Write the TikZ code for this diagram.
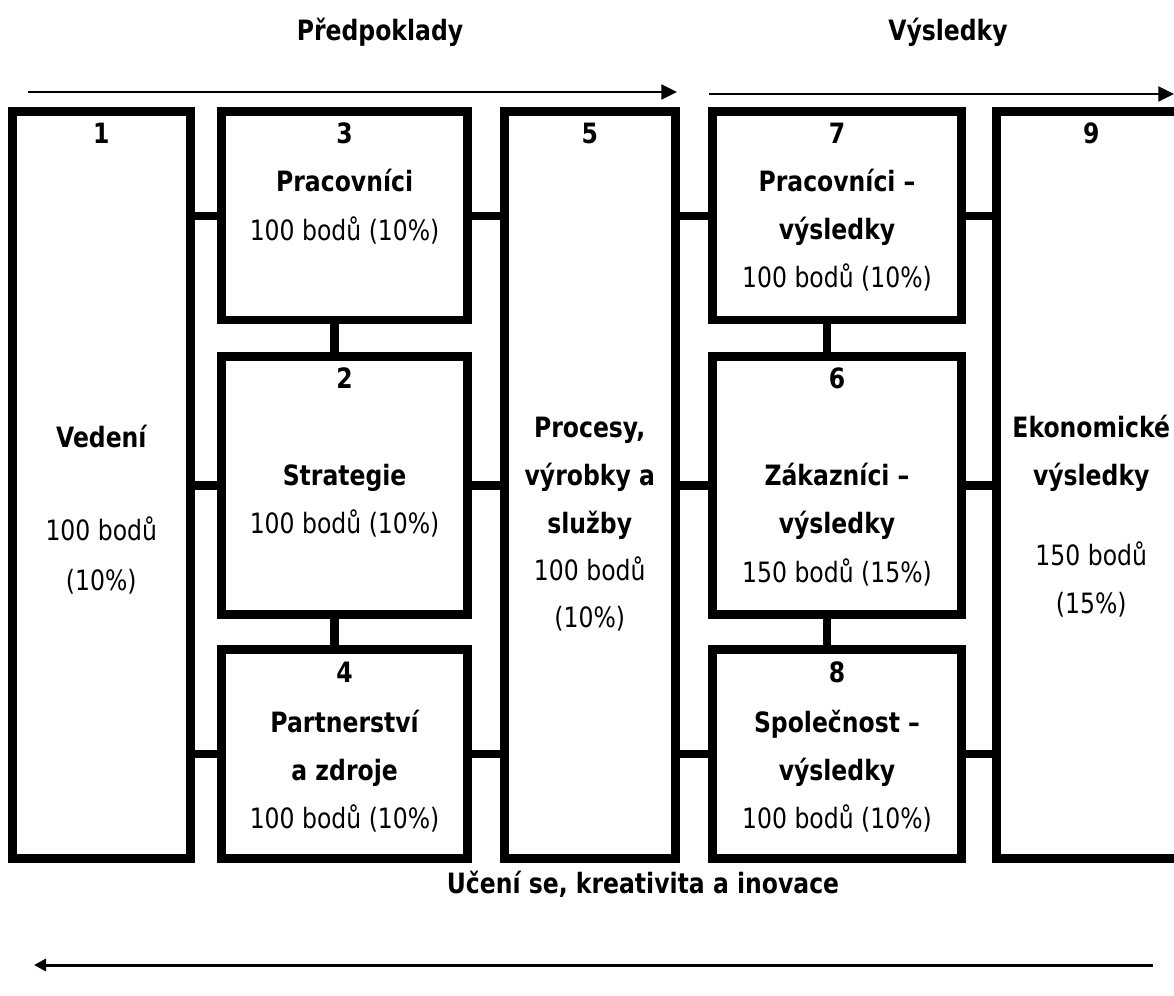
\documentclass[tikz,border=0pt]{standalone}
\usepackage{fontspec}
\setmainfont{DejaVu Sans}[FakeStretch=0.84]
\usetikzlibrary{arrows.meta}

\begin{document}
\begin{tikzpicture}[x=0.5pt,y=-0.5pt]
	\tikzstyle{block}=[rectangle, draw=black, line width=4.35pt, inner sep=0pt]
	\tikzstyle{txt}=[anchor=base, inner sep=0pt, font=\fontsize{14}{16}\selectfont]
	\tikzstyle{bold}=[txt, font=\fontsize{14}{16}\selectfont\bfseries]
	\tikzstyle{link}=[line width=4.35pt]
	\tikzstyle{flow}=[line width=1pt, -{Triangle[length=7.8pt,width=7.5pt]}]
	
	\useasboundingbox (0,0) rectangle (1174,996);
	\clip (0,0) rectangle (1174,996);
	
	% nadpisy
	\node at (380,40) [bold] (pred) {Předpoklady};
	\node at (948,40) [bold] (vys) {Výsledky};
	\node at (643,893) [bold] (uceni) {Učení se, kreativita a inovace};
	
	\coordinate (a1) at (28,92);
	\coordinate (a2) at (677,92);
	\draw [flow] (a1) -- (a2);
	\coordinate (a3) at (709,94);
	\coordinate (a4) at (1174,94);
	\draw [flow] (a3) -- (a4);
	\coordinate (a5) at (1153,965);
	\coordinate (a6) at (34,965);
	\draw [line width=1.5pt, -{Triangle[length=6pt,width=6pt]}] (a5) -- (a6);
	
	% bloky
	\node at (101.3,485) [block, minimum width=89pt, minimum height=373.3pt] (b1) {};
	\node at (344.6,215.85) [block, minimum width=122.9pt, minimum height=104.15pt] (b3) {};
	\node at (344.6,485.6) [block, minimum width=122.9pt, minimum height=128.9pt] (b2) {};
	\node at (344.6,753.9) [block, minimum width=122.9pt, minimum height=104.4pt] (b4) {};
	\node at (589.75,485) [block, minimum width=85.45pt, minimum height=373.3pt] (b5) {};
	\node at (837,215.85) [block, minimum width=124.5pt, minimum height=104.15pt] (b7) {};
	\node at (837,485.6) [block, minimum width=124.5pt, minimum height=128.9pt] (b6) {};
	\node at (837,753.9) [block, minimum width=124.5pt, minimum height=104.4pt] (b8) {};
	\node at (1091.25,485) [block, minimum width=94.75pt, minimum height=373.3pt] (b9) {};
	
	% spojky
	\draw [link] (b1.east |- b3.west) -- (b3.west);
	\draw [link] (b3.east) -- (b5.west |- b3.east);
	\draw [link] (b5.east |- b7.west) -- (b7.west);
	\draw [link] (b7.east) -- (b9.west |- b7.east);
	\draw [link] (b1.east |- b2.west) -- (b2.west);
	\draw [link] (b2.east) -- (b5.west |- b2.east);
	\draw [link] (b5.east |- b6.west) -- (b6.west);
	\draw [link] (b6.east) -- (b9.west |- b6.east);
	\draw [link] (b1.east |- b4.west) -- (b4.west);
	\draw [link] (b4.east) -- (b5.west |- b4.east);
	\draw [link] (b5.east |- b8.west) -- (b8.west);
	\draw [link] (b8.east) -- (b9.west |- b8.east);
	\draw [link] ([xshift=-5pt]b3.south) -- ([xshift=-5pt]b2.north);
	\draw [link] ([xshift=-5pt]b2.south) -- ([xshift=-5pt]b4.north);
	\draw [link] ([xshift=-5pt]b7.south) -- ([xshift=-5pt]b6.north);
	\draw [link] ([xshift=-5pt]b6.south) -- ([xshift=-5pt]b8.north);
	
	% 1
	\node at (101.3,143) [bold] (n1) {1};
	\node at (101.3,447) [bold] (t1) {Vedení};
	\node at (101.3,540) [txt] (p1) {100 bodů};
	\node at (101.3,590) [txt] (q1) {(10\%)};
	% 3
	\node at (344.6,143) [bold] (n3) {3};
	\node at (344.6,191) [bold] (t3) {Pracovníci};
	\node at (344.6,240) [txt] (p3) {100 bodů (10\%)};
	% 2
	\node at (344.6,388) [bold] (n2) {2};
	\node at (344.6,485) [bold] (t2) {Strategie};
	\node at (344.6,533) [txt] (p2) {100 bodů (10\%)};
	% 4
	\node at (344.6,682) [bold] (n4) {4};
	\node at (344.6,732) [bold] (t4) {Partnerství};
	\node at (344.6,780) [bold] (s4) {a zdroje};
	\node at (344.6,828) [txt] (p4) {100 bodů (10\%)};
	% 5
	\node at (589.75,143) [bold] (n5) {5};
	\node at (589.75,437) [bold] (t5) {Procesy,};
	\node at (589.75,485) [bold] (s5) {výrobky a};
	\node at (589.75,533) [bold] (r5) {služby};
	\node at (589.75,580) [txt] (p5) {100 bodů};
	\node at (589.75,627) [txt] (q5) {(10\%)};
	% 7
	\node at (837,143) [bold] (n7) {7};
	\node at (837,191) [bold] (t7) {Pracovníci –};
	\node at (837,239) [bold] (s7) {výsledky};
	\node at (837,287) [txt] (p7) {100 bodů (10\%)};
	% 6
	\node at (837,388) [bold] (n6) {6};
	\node at (837,485) [bold] (t6) {Zákazníci –};
	\node at (837,533) [bold] (s6) {výsledky};
	\node at (837,582) [txt] (p6) {150 bodů (15\%)};
	% 8
	\node at (837,682) [bold] (n8) {8};
	\node at (837,732) [bold] (t8) {Společnost –};
	\node at (837,780) [bold] (s8) {výsledky};
	\node at (837,828) [txt] (p8) {100 bodů (10\%)};
	% 9
	\node at (1091.25,143) [bold] (n9) {9};
	\node at (1091.25,437) [bold] (t9) {Ekonomické};
	\node at (1091.25,485) [bold] (s9) {výsledky};
	\node at (1091.25,565) [txt] (p9) {150 bodů};
	\node at (1091.25,613) [txt] (q9) {(15\%)};
\end{tikzpicture}
\end{document}
